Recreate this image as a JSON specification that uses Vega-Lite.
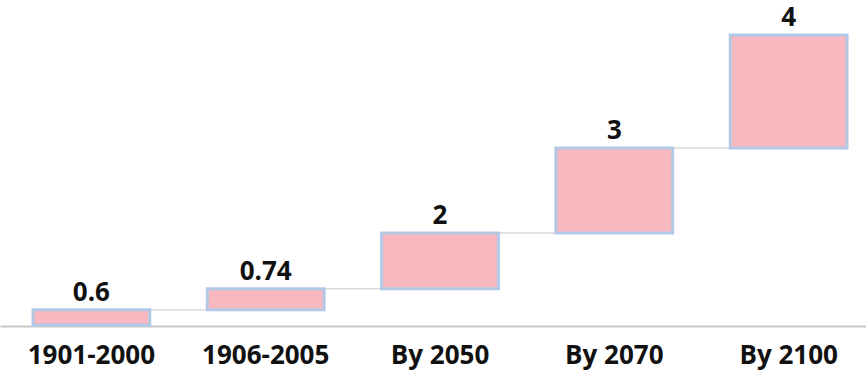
{
  "$schema": "https://vega.github.io/schema/vega-lite/v6.json",
  "width": 866,
  "height": 318,
  "autosize": "none",
  "padding": {"left": 0, "top": 8, "right": 0, "bottom": 49},
  "background": "white",
  "datasets": {
    "bars": [
      {"cat": "1901-2000", "start": 0, "end": 0.21, "label": "0.6"},
      {"cat": "1906-2005", "start": 0.21, "end": 0.5, "label": "0.74"},
      {"cat": "By 2050", "start": 0.5, "end": 1.27, "label": "2"},
      {"cat": "By 2070", "start": 1.27, "end": 2.44, "label": "3"},
      {"cat": "By 2100", "start": 2.44, "end": 4.0, "label": "4"}
    ],
    "links": [
      {"link": 1, "cat": "1901-2000", "level": 0.21},
      {"link": 1, "cat": "1906-2005", "level": 0.21},
      {"link": 2, "cat": "1906-2005", "level": 0.5},
      {"link": 2, "cat": "By 2050", "level": 0.5},
      {"link": 3, "cat": "By 2050", "level": 1.27},
      {"link": 3, "cat": "By 2070", "level": 1.27},
      {"link": 4, "cat": "By 2070", "level": 2.44},
      {"link": 4, "cat": "By 2100", "level": 2.44}
    ]
  },
  "layer": [
    {
      "data": {"name": "links"},
      "mark": {"type": "line", "color": "#d9d9d9", "strokeWidth": 1.5},
      "encoding": {
        "x": {"field": "cat", "type": "nominal"},
        "y": {"field": "level", "type": "quantitative"},
        "detail": {"field": "link", "type": "nominal"}
      }
    },
    {
      "data": {"name": "bars"},
      "mark": {"type": "bar", "fill": "#f7b8c0", "stroke": "#b3c8e6", "strokeWidth": 3},
      "encoding": {
        "x": {
          "field": "cat",
          "type": "nominal",
          "scale": {"paddingInner": 0.33, "paddingOuter": 0.149, "align": 0.635}
        },
        "y": {
          "field": "start",
          "type": "quantitative",
          "scale": {"domain": [-0.014, 4.372], "nice": false, "zero": false}
        },
        "y2": {"field": "end"}
      }
    },
    {
      "data": {"name": "bars"},
      "mark": {"type": "text", "font": "Open Sans", "fontWeight": "bold", "fontSize": 26, "color": "#111111", "baseline": "alphabetic", "dy": -9},
      "encoding": {
        "x": {"field": "cat", "type": "nominal"},
        "y": {"field": "end", "type": "quantitative"},
        "text": {"field": "label"}
      }
    }
  ],
  "resolve": {"scale": {"x": "shared", "y": "shared"}},
  "encoding": {},
  "config": {
    "axisX": {
      "title": null,
      "ticks": false,
      "labelAngle": 0,
      "labelFont": "Open Sans",
      "labelFontWeight": "bold",
      "labelFontSize": 26,
      "labelColor": "#111111",
      "labelPadding": 16,
      "domainColor": "#c8c8c8",
      "domainWidth": 2
    },
    "axisY": {"disable": true},
    "view": {"stroke": null}
  }
}
